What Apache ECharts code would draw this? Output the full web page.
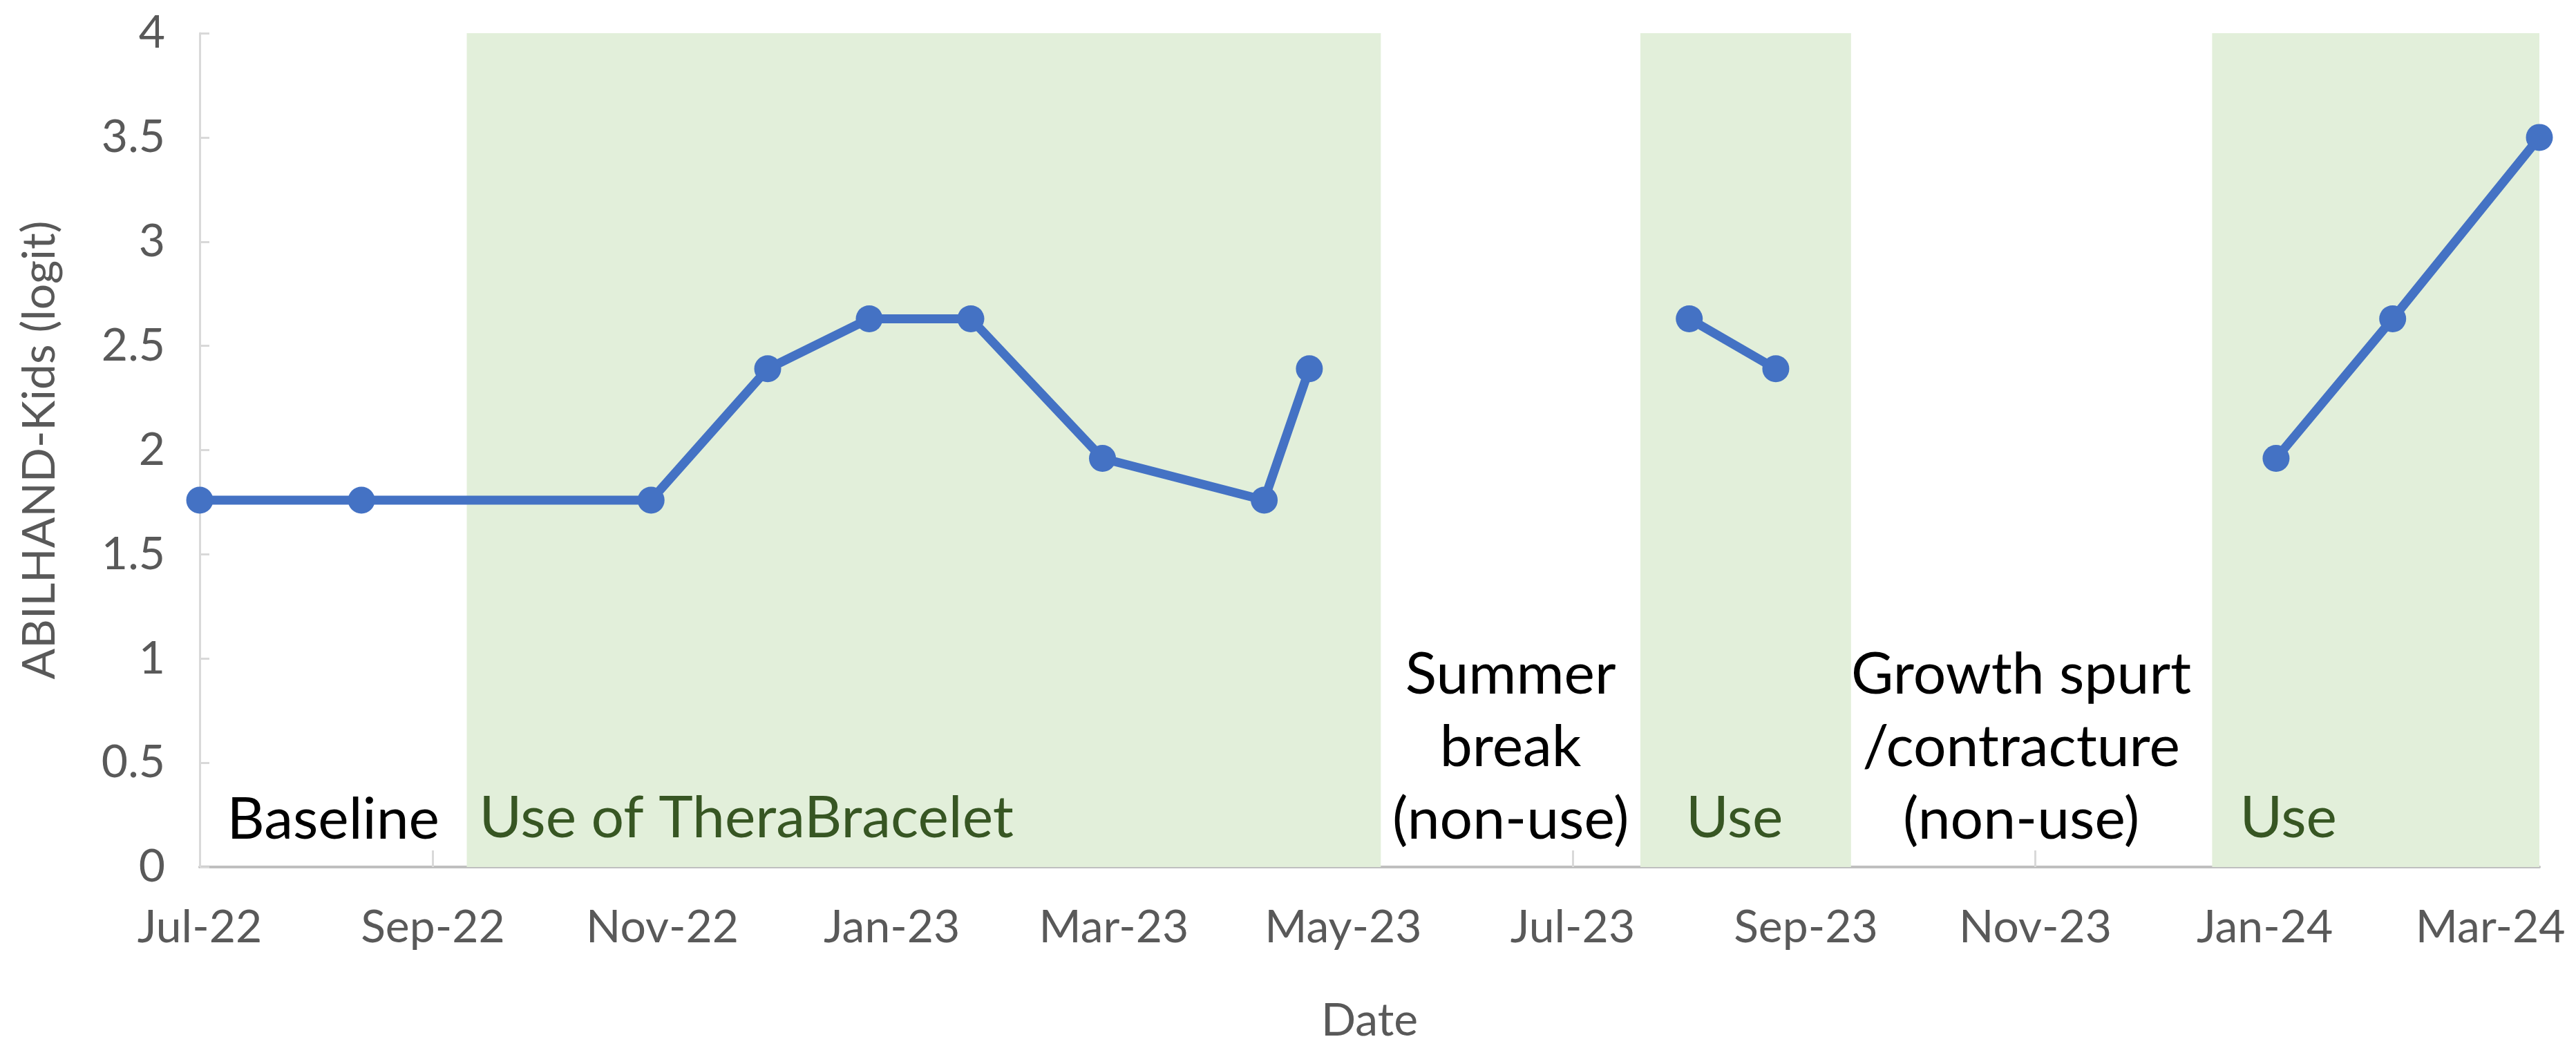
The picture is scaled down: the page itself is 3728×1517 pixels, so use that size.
<!DOCTYPE html>
<html>
<head>
<meta charset="utf-8">
<script src="https://cdn.jsdelivr.net/npm/echarts@6/dist/echarts.min.js"></script>
<style>
  html, body { margin: 0; padding: 0; background: #ffffff; }
  #chart { width: 3728px; height: 1517px; }
</style>
</head>
<body>
<div id="chart"></div>
<script>
// ---------- data ----------
const pointDates = ['2022-07-01','2022-08-13','2022-10-29','2022-11-29','2022-12-26','2023-01-22','2023-02-26','2023-04-10','2023-04-22',
                    '2023-08-01','2023-08-24',
                    '2024-01-04','2024-02-04','2024-03-14'];
const pointValues = [1.76, 1.76, 1.76, 2.39, 2.63, 2.63, 1.96, 1.76, 2.39,
                     2.63, 2.39,
                     1.96, 2.63, 3.50];
const pointSegment = [1,1,1,1,1,1,1,1,1, 2,2, 3,3,3];

const tickDates  = ['2022-07-01','2022-09-01','2022-11-01','2023-01-01','2023-03-01','2023-05-01','2023-07-01','2023-09-01','2023-11-01','2024-01-01','2024-03-01'];
const tickLabels = ['Jul-22','Sep-22','Nov-22','Jan-23','Mar-23','May-23','Jul-23','Sep-23','Nov-23','Jan-24','Mar-24'];

const periodStart = ['2022-07-01','2022-09-10','2023-05-11','2023-07-19','2023-09-13','2023-12-18'];
const periodEnd   = ['2022-09-10','2023-05-11','2023-07-19','2023-09-13','2023-12-18','2024-03-14'];
const periodLabel = ['Baseline','Use of TheraBracelet','Summer\nbreak\n(non-use)','Use','Growth spurt\n/contracture\n(non-use)','Use'];
const periodInUse = [false, true, false, true, false, true];

const yTicks = [0, 0.5, 1, 1.5, 2, 2.5, 3, 3.5, 4];

// ---------- helpers ----------
function ts(s) { const p = s.split('-').map(Number); return Date.UTC(p[0], p[1] - 1, p[2]); }
const tickTs = tickDates.map(ts);

const FONT = 'Lato, "Open Sans", sans-serif';
const labelStyles = [
  { position: 'insideBottom', distance: 16, align: 'center' },
  { position: 'insideBottomLeft', distance: 18, align: 'left' },
  { position: 'insideBottom', distance: 16, align: 'center' },
  { position: 'insideBottomLeft', distance: 18, align: 'left', offset: [48, 0] },
  { position: 'insideBottom', distance: 16, align: 'center', offset: [-15, 0] },
  { position: 'insideBottomLeft', distance: 18, align: 'left', offset: [22, 0] }
];

const markAreaData = periodStart.map(function (s, i) {
  const ls = labelStyles[i];
  return [
    {
      xAxis: ts(s),
      name: periodLabel[i],
      itemStyle: { color: periodInUse[i] ? '#E2EFDA' : 'rgba(255,255,255,0)' },
      label: {
        show: true,
        position: ls.position,
        distance: ls.distance,
        align: ls.align,
        offset: ls.offset || [0, 0],
        color: periodInUse[i] ? '#375623' : '#000000',
        fontSize: 84,
        lineHeight: 105,
        fontFamily: FONT
      }
    },
    { xAxis: ts(periodEnd[i]) }
  ];
});

const lineStyleCommon = {
  type: 'line',
  symbol: 'circle',
  symbolSize: 39,
  lineStyle: { color: '#4472C4', width: 13 },
  itemStyle: { color: '#4472C4' },
  z: 5,
  animation: false
};

const segments = Array.from(new Set(pointSegment));
const series = segments.map(function (seg, k) {
  const data = [];
  pointDates.forEach(function (d, i) {
    if (pointSegment[i] === seg) data.push([ts(d), pointValues[i]]);
  });
  const s = Object.assign({}, lineStyleCommon, { name: 'ABILHAND-Kids ' + seg, data: data });
  if (k === 0) {
    s.markArea = { silent: true, z: 1, data: markAreaData };
  }
  return s;
});

const chart = echarts.init(document.getElementById('chart'), null, { renderer: 'canvas' });
chart.setOption({
  backgroundColor: '#ffffff',
  animation: false,
  textStyle: { fontFamily: FONT },
  grid: { left: 289, right: 53, top: 48, bottom: 262, containLabel: false, outerBoundsMode: 'none' },
  xAxis: {
    type: 'value',
    min: ts(pointDates[0]),
    max: ts(pointDates[pointDates.length - 1]),
    name: 'Date',
    nameLocation: 'middle',
    nameGap: 190,
    nameTextStyle: { fontSize: 66, color: '#595959', fontFamily: FONT },
    axisLine: { show: true, lineStyle: { color: '#BFBFBF', width: 4 } },
    axisTick: { show: true, inside: true, length: 24, lineStyle: { color: '#D9D9D9', width: 3 }, customValues: tickTs },
    axisLabel: {
      show: true, fontSize: 66, color: '#595959', margin: 55, fontFamily: FONT,
      customValues: tickTs,
      formatter: function (v) { const i = tickTs.indexOf(v); return i >= 0 ? tickLabels[i] : ''; }
    },
    splitLine: { show: false }
  },
  yAxis: {
    type: 'value',
    min: yTicks[0],
    max: yTicks[yTicks.length - 1],
    interval: 0.5,
    name: 'ABILHAND-Kids (logit)',
    nameLocation: 'middle',
    nameGap: 198,
    nameTextStyle: { fontSize: 66, color: '#595959', fontFamily: FONT },
    axisLine: { show: true, lineStyle: { color: '#D9D9D9', width: 3 } },
    axisTick: { show: true, inside: true, length: 14, lineStyle: { color: '#D9D9D9', width: 3 } },
    axisLabel: { fontSize: 66, color: '#595959', margin: 50, fontFamily: FONT },
    splitLine: { show: false }
  },
  series: series
});
</script>
</body>
</html>
